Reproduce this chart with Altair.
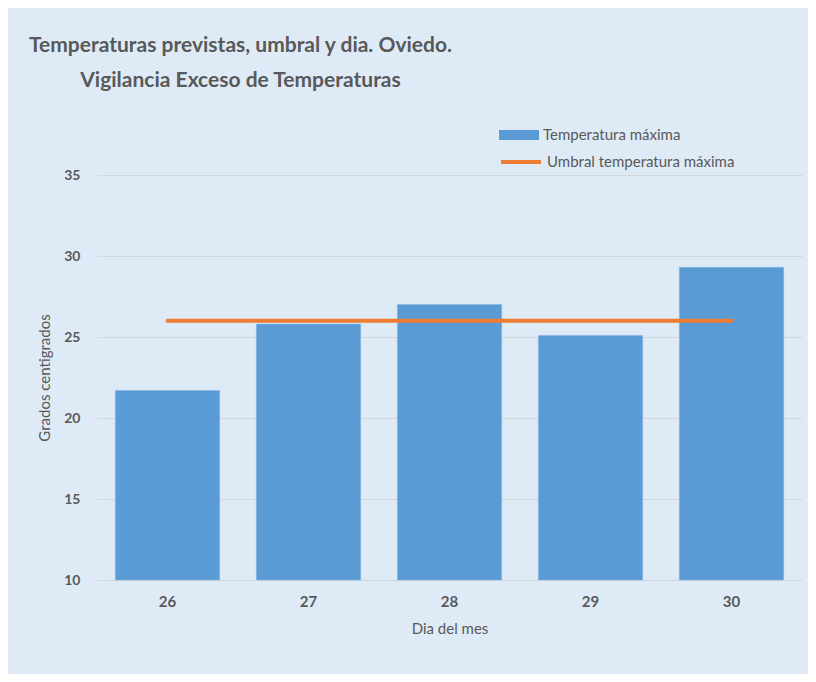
import altair as alt
import pandas as pd

dias = ["26", "27", "28", "29", "30"]
temp_max = [21.7, 25.8, 27.0, 25.1, 29.3]
umbral = [26, 26, 26, 26, 26]
y_ticks = [10, 15, 20, 25, 30, 35]
Y_MIN, Y_MAX = 10, 35

df = pd.DataFrame({
    "dia": dias,
    "temp": temp_max,
    "umbral": umbral,
    "serie_bar": ["Temperatura máxima"] * len(dias),
    "serie_line": ["Umbral temperatura máxima"] * len(dias),
    "base": [Y_MIN] * len(dias),
})

FONT = "Lato"
TXT = "#595959"

x_enc = alt.X("dia:N", sort=dias, title="Dia del mes",
              scale=alt.Scale(paddingInner=0.26, paddingOuter=0.13),
              axis=alt.Axis(labelAngle=0, labelFontWeight="bold", labelFontSize=15,
                            labelColor=TXT, labelFont=FONT, labelPadding=14,
                            titleFont=FONT, titleFontSize=15, titleFontWeight="normal",
                            titleColor=TXT, titlePadding=12, ticks=False, domain=False,
                            grid=False))

y_scale = alt.Scale(domain=[Y_MIN, Y_MAX], zero=False, nice=False)

bars = alt.Chart(df).mark_bar(stroke="#7FB2E3", strokeWidth=0.5).encode(
    x=x_enc,
    y=alt.Y("temp:Q", scale=y_scale, title="Grados centigrados",
            axis=alt.Axis(values=y_ticks, labelFontWeight="bold", labelFontSize=14,
                          labelColor=TXT, labelFont=FONT, labelPadding=17,
                          titleFont=FONT, titleFontSize=15, titleFontWeight="normal",
                          titleColor=TXT, titlePadding=11, ticks=False, domain=False,
                          gridColor="#D3D7DB", gridWidth=1.2)),
    y2="base:Q",
    color=alt.Color("serie_bar:N", scale=alt.Scale(range=["#5B9BD5"]),
                    legend=alt.Legend(title=None, orient="none", legendX=402, legendY=-60,
                                      symbolType="M-1,-0.25H1V0.25H-1Z", symbolSize=1600,
                                      symbolStrokeWidth=0, symbolOpacity=1,
                                      labelFont=FONT, labelFontSize=15, labelColor=TXT,
                                      labelOffset=4, labelLimit=400)),
)

line = alt.Chart(df).mark_line(strokeWidth=4, strokeCap="round").encode(
    x=alt.X("dia:N", sort=dias),
    y=alt.Y("umbral:Q", scale=y_scale),
    stroke=alt.Stroke("serie_line:N", scale=alt.Scale(range=["#ED7D31"]),
                      legend=alt.Legend(title=None, orient="none", legendX=402, legendY=-35,
                                        symbolType="stroke", symbolSize=1600,
                                        symbolStrokeWidth=4,
                                        labelFont=FONT, labelFontSize=15, labelColor=TXT,
                                        labelOffset=4, labelLimit=400)),
)

chart = alt.layer(bars, line).resolve_scale(color="independent", stroke="independent").properties(
    width=705,
    height=405,
    padding={"left": 89, "top": 167, "right": 6, "bottom": 94},
    autosize=alt.AutoSizeParams(type="none"),
    background="#DEEBF7",
    title=alt.TitleParams(
        text=["Temperaturas previstas, umbral y dia. Oviedo.",
              "Vigilancia Exceso de Temperaturas"],
        anchor="middle", dx=-209, offset=24, frame="group",
        font=FONT, fontSize=21, fontWeight="bold", color=TXT, lineHeight=35,
    ),
).configure_view(stroke=None)

chart.save("out.html", embed_options={"renderer": "svg", "actions": False})
